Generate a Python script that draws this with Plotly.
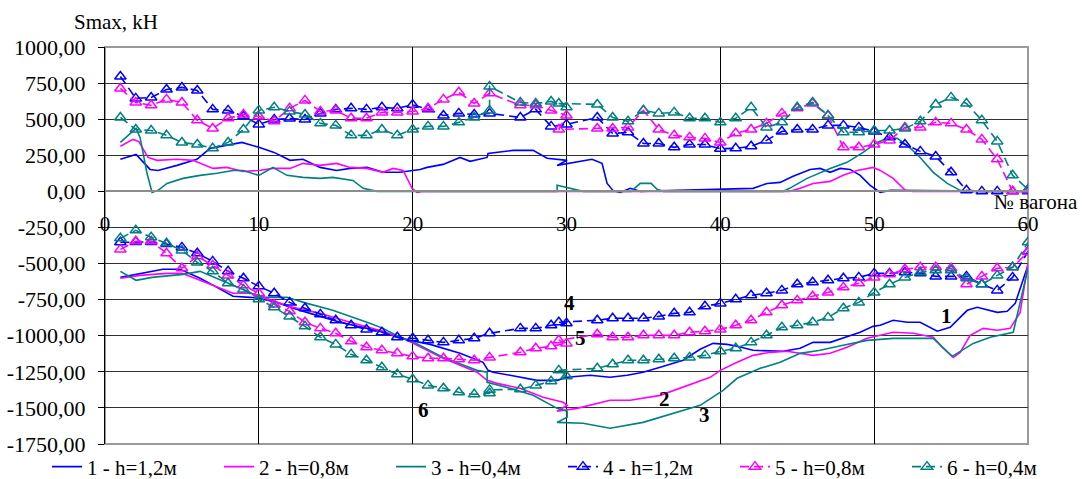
import plotly.graph_objects as go

# ---------------- data ----------------
# dashed series (4,5,6): upper branch (x = car number)
s4_up_x = [1,2,3,4,5,6,7,8,9,10,11,12,13,14,15,16,17,18,19,20,21,22,23,24,25,27,28,29,30,32,33,34,35,36,37,38,39,40,41,42,43,44,45,46,47,48,49,50,51,52,53,54,55,56,57,58,59,60]
s4_up_y = [796,644,650,706,720,699,568,561,520,464,498,505,498,540,568,575,568,582,575,600,568,526,540,533,540,512,568,450,464,512,401,409,332,332,305,325,325,295,298,312,353,415,429,429,457,457,443,415,374,325,277,242,132,7,0,0,0,0]
s5_up_x = [1,2,3,4,5,6,7,8,9,10,11,12,13,14,15,16,17,18,19,20,21,22,23,24,25,27,28,29,30,29.5,32,33,34,35,36,37,38,39,40,41,42,43,44,45,46,47,48,49,50,51,52,53,54,55,56,57,58,59,60]
s5_up_y = [713,616,596,637,616,492,436,506,533,520,485,575,630,554,561,506,506,547,547,554,575,637,686,609,679,596,596,561,526,429,436,436,443,561,429,388,374,367,339,402,429,471,540,575,609,526,305,305,325,353,443,443,478,471,429,360,222,0,7]
s6_up_x = [1,2,3,4,5,6,7,8,9,10,11,12,13,14,15,16,17,18,19,20,21,22,23,24,25,25,27,28,29,30,29.5,32,33,34,35,36,37,38,39,40,41,42,43,44,45,46,47,48,49,50,51,52,53,54,55,56,57,58,59,60]
s6_up_y = [512,429,422,388,339,325,298,339,429,561,582,554,533,471,457,388,388,429,388,429,450,450,478,512,561,727,616,609,623,582,609,602,512,485,561,540,547,506,506,478,506,582,443,478,582,616,526,409,409,422,422,436,485,602,651,609,492,346,111,14]

# dashed series: lower branch
s4_lo_x = [1,2,3,4,5,6,7,8,9,10,11,12,13,14,15,16,17,18,19,20,21,22,23,24,25,27,28,29,30,29.5,32,33,34,35,36,37,38,39,40,41,42,43,44,45,46,47,48,49,50,51,52,53,54,55,56,57,58,59,60]
s4_lo_y = [-353,-350,-350,-365,-388,-429,-485,-554,-602,-658,-706,-769,-810,-852,-893,-928,-956,-976,-1011,-1018,-1032,-1046,-1032,-1018,-983,-949,-949,-928,-914,-907,-893,-879,-879,-879,-866,-845,-838,-796,-776,-748,-720,-706,-686,-644,-630,-616,-602,-596,-568,-568,-560,-568,-589,-589,-589,-644,-686,-596,-416]
s5_lo_x = [1,2,3,4,5,6,7,8,9,10,11,12,13,14,15,16,17,18,19,20,21,22,23,24,25,27,28,29,30,29.5,32,33,34,35,36,37,38,39,40,41,42,43,44,45,46,47,48,49,50,51,52,53,54,55,56,57,58,59,60]
s5_lo_y = [-402,-346,-346,-429,-533,-450,-512,-582,-651,-706,-783,-831,-907,-949,-983,-1039,-1080,-1101,-1122,-1143,-1156,-1156,-1163,-1170,-1150,-1115,-1087,-1073,-1053,-1032,-990,-1011,-1011,-997,-997,-997,-976,-969,-956,-928,-893,-838,-789,-755,-727,-700,-665,-637,-596,-575,-540,-526,-526,-533,-644,-589,-533,-526,-420]
s6_lo_x = [1,2,3,4,5,6,7,8,9,10,11,12,13,14,15,16,17,18,19,20,21,22,23,24,25,25,27,28,29,30,29.5,32,33,34,35,36,37,38,39,40,41,42,43,44,45,46,47,48,49,50,51,52,53,54,55,56,57,58,59,60]
s6_lo_y = [-325,-270,-318,-360,-409,-492,-554,-637,-679,-748,-803,-866,-935,-1011,-1060,-1129,-1170,-1219,-1267,-1302,-1344,-1364,-1392,-1406,-1399,-1375,-1371,-1344,-1316,-1281,-1240,-1226,-1198,-1170,-1170,-1163,-1156,-1150,-1136,-1108,-1087,-1046,-997,-942,-928,-907,-873,-810,-769,-700,-644,-596,-561,-547,-547,-602,-644,-582,-526,-353]

# solid series (1,2,3): upper branch
s1_up_x = [1,2.02,2.93,3.45,4.68,5.98,6.83,7.93,8.9,10,10.99,12.03,12.87,13.98,15.05,15.93,17.03,18.08,19.18,20.48,20.94,21.98,23.08,23.73,24.84,24.9,26.53,27.83,28.74,30.04,29.39,31.66,32.31,32.64,33.03,33.49,34.14,34.79,42.13,43.04,43.89,44.73,45.84,46.49,47.14,47.79,48.44,49.09,49.74,50.39,51.04,60]
s1_up_y = [222,256,152,145,180,222,298,318,339,305,270,215,222,166,145,159,166,132,132,152,166,187,235,208,235,263,284,284,229,215,180,222,194,55,5,-7,21,0,21,55,62,104,152,159,132,159,152,111,42,-7,7,0]
s2_up_x = [1,1.82,2.2,2.8,3.38,4.68,5.72,7.02,7.93,8.97,10,10.92,12.03,12.87,13.98,15.05,15.93,17.03,18.08,18.73,19.38,19.96,20.29,20.6,44.5,45.19,46.03,47.14,47.98,48.89,49.93,50.39,51.24,52.02,52.5,60]
s2_up_y = [312,360,345,235,215,222,215,159,166,138,145,159,159,194,180,194,166,159,132,159,145,21,-7,0,0,21,55,69,111,145,166,145,90,7,0,0]
s3_up_x = [1,2.02,2.28,2.73,3.06,3.45,4.03,5.07,6.18,7.28,8.32,8.97,10,10.92,11.83,12.87,13.98,14.8,16.12,16.78,17.69,29.39,29.39,31.08,34.2,34.79,35.5,35.89,36.3,44.08,44.5,45.64,47.14,48.24,49.28,50.2,50.85,51.5,52.15,52.99,53.84,54.75,55.59,56,60]
s3_up_y = [339,436,374,125,-7,7,55,90,111,125,145,145,111,166,111,97,90,97,76,21,0,0,42,0,0,55,55,14,0,0,21,90,159,201,270,339,367,367,318,235,132,55,7,0,0]

# solid series: lower branch
s1_lo_x = [1,2.02,3.77,4.88,6.18,7.28,8.32,9.43,10,11.18,12.22,13.78,15.28,17.03,18.08,19.18,19.83,21.13,23.08,24.58,24.9,25.23,26.33,28.09,29.39,30.04,31.53,32.83,33.94,34.98,36.09,37.58,38.69,39.53,40.44,41.09,42.13,44.08,45.19,46.03,47.14,47.98,49.09,49.93,50.39,51.24,52.15,52.99,54.1,54.94,56.05,56.7,58.0,58.65,59.17,60]
s1_lo_y = [-596,-575,-540,-540,-602,-665,-727,-734,-741,-769,-810,-859,-907,-949,-976,-1018,-1032,-1060,-1122,-1184,-1240,-1253,-1274,-1309,-1309,-1288,-1274,-1288,-1274,-1253,-1219,-1170,-1094,-1053,-1060,-1073,-1101,-1108,-1087,-1046,-1046,-1018,-976,-935,-928,-893,-907,-907,-969,-942,-824,-803,-838,-831,-776,-512]
s2_lo_x = [1,2.28,4.03,5.0,6.18,7.28,8.32,9.43,10,11.18,12.22,13.98,15.93,18.08,19.64,21.98,24.19,24.84,25.49,26.98,28.48,29.78,30.04,29.39,30.69,32.83,34.14,36.09,37.84,39.34,40,40.64,41.09,42.13,43.24,44.34,46.03,47.14,48.24,49.54,51.24,52.54,53.84,54.49,55.14,55.59,56.24,57.09,58.0,58.84,59.49,60]
s2_lo_y = [-602,-582,-568,-568,-616,-665,-706,-706,-720,-769,-803,-845,-907,-969,-1032,-1156,-1253,-1309,-1330,-1364,-1426,-1461,-1482,-1523,-1503,-1447,-1447,-1413,-1344,-1288,-1240,-1205,-1184,-1136,-1115,-1108,-1136,-1122,-1080,-1018,-976,-983,-1011,-1087,-1150,-1115,-997,-949,-962,-949,-838,-499]
s3_lo_x = [1,2.02,3.06,5.07,6.18,7.28,8.32,9.43,10,11.83,13.13,14.8,17.03,18.08,19.18,19.83,21.98,24.19,24.84,24.84,26.33,27.83,29.39,30.04,30.04,29.39,31.08,32.83,34.98,37.19,38.69,40.18,41.09,42.59,43.89,45.19,46.49,47.98,49.54,51.24,53.84,55.07,56.44,57.54,59.04,60]
s3_lo_y = [-554,-616,-596,-575,-554,-602,-651,-700,-734,-734,-776,-824,-907,-949,-1011,-1032,-1150,-1240,-1253,-1323,-1364,-1413,-1503,-1523,-1565,-1600,-1606,-1641,-1600,-1530,-1482,-1378,-1295,-1226,-1184,-1122,-1101,-1066,-1032,-1018,-1018,-1143,-1053,-1011,-976,-533]

names = ["1 - h=1,2м", "2 - h=0,8м", "3 - h=0,4м", "4 - h=1,2м", "5 - h=0,8м", "6 - h=0,4м"]
colors = ["#0000FF", "#FF00FF", "#008080", "#0000FF", "#FF00FF", "#008080"]

y_ticks = [1000, 750, 500, 250, 0, -250, -500, -750, -1000, -1250, -1500, -1750]
x_ticks = [0, 10, 20, 30, 40, 50, 60]

curve_labels = ["1", "2", "3", "4", "5", "6"]
label_x = [54.7, 36.4, 39.0, 30.2, 30.9, 20.7]
label_y = [-866, -1440, -1551, -776, -1018, -1517]

# ---------------- figure ----------------
FONT = "Liberation Serif"
FS = 21
series = [
    (s1_up_x, s1_up_y, s1_lo_x, s1_lo_y),
    (s2_up_x, s2_up_y, s2_lo_x, s2_lo_y),
    (s3_up_x, s3_up_y, s3_lo_x, s3_lo_y),
    (s4_up_x, s4_up_y, s4_lo_x, s4_lo_y),
    (s5_up_x, s5_up_y, s5_lo_x, s5_lo_y),
    (s6_up_x, s6_up_y, s6_lo_x, s6_lo_y),
]

fig = go.Figure()
for i, (ux, uy, lx, ly) in enumerate(series):
    xs = list(ux) + [None] + list(lx)
    ys = list(uy) + [None] + list(ly)
    dashed = i >= 3
    fig.add_trace(go.Scatter(
        x=xs, y=ys, name=names[i],
        mode="lines+markers" if dashed else "lines",
        connectgaps=False,
        line=dict(color=colors[i], width=1.6, dash="9px,5px" if dashed else "solid"),
        marker=dict(symbol="triangle-up-open", size=10, color=colors[i],
                    line=dict(width=1.5, color=colors[i])) if dashed else None,
    ))

for t, lx, ly in zip(curve_labels, label_x, label_y):
    fig.add_annotation(x=lx, y=ly, xref="x", yref="y", text="<b>%s</b>" % t,
                       showarrow=False, font=dict(family=FONT, size=FS, color="black"))

fig.add_annotation(x=(116 - 105) / 923.0, y=1 + (47 - 22) / 397.0, xref="paper", yref="paper",
                   text="Smax, kH", showarrow=False, xanchor="center", yanchor="middle",
                   font=dict(family=FONT, size=FS, color="black"))
fig.add_annotation(x=(1080 - 105) / 923.0, y=(444 - 202) / 397.0, xref="paper", yref="paper",
                   text="№ вагона", showarrow=False, xanchor="right", yanchor="middle",
                   font=dict(family=FONT, size=FS, color="black"))

fig.add_shape(type="rect", xref="paper", yref="paper", x0=0, x1=1, y0=0, y1=1,
              line=dict(color="#9a9a9a", width=2), layer="between")

fig.update_layout(
    width=1082, height=479,
    margin=dict(l=105, r=54, t=47, b=35, autoexpand=False),
    paper_bgcolor="white", plot_bgcolor="white",
    font=dict(family=FONT, size=FS, color="black"),
    showlegend=True,
    legend=dict(orientation="h", x=(47 - 105) / 923.0, xanchor="left",
                y=-(467 - 444) / 397.0, yanchor="middle",
                entrywidth=127, entrywidthmode="pixels",
                font=dict(family=FONT, size=FS, color="black"),
                bgcolor="rgba(0,0,0,0)", tracegroupgap=0),
    xaxis=dict(range=[0, 60], tickvals=x_ticks, ticktext=[str(v) for v in x_ticks],
               showgrid=True, gridcolor="#000000", gridwidth=1,
               anchor="free", position=1750 / 2750.0,
               showline=True, linecolor="#8c8c8c", linewidth=2,
               zeroline=False, ticks="", ticklabelstandoff=13,
               tickfont=dict(family=FONT, size=FS)),
    yaxis=dict(range=[-1750, 1000], tickvals=y_ticks,
               ticktext=[("%.2f" % v).replace(".", ",") for v in y_ticks],
               showgrid=True, gridcolor="#303030", gridwidth=1,
               zeroline=False, showline=True, linecolor="#000000", linewidth=1,
               ticks="outside", ticklen=6, tickcolor="#000000", ticklabelstandoff=8,
               tickfont=dict(family=FONT, size=22)),
)

fig.write_html("out.html", config={"displayModeBar": False},
               post_script="document.body.style.margin='0';document.body.style.padding='0';")
